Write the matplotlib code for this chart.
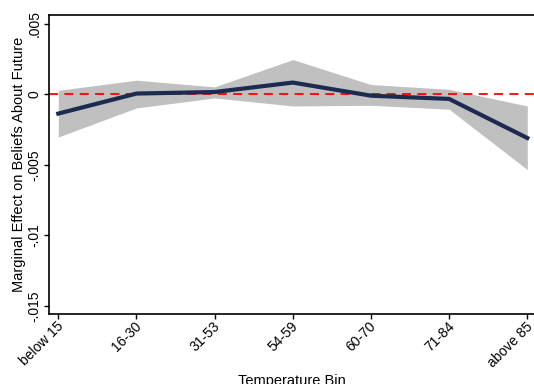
import matplotlib
matplotlib.use("Agg")
import matplotlib.pyplot as plt
import matplotlib.transforms as mtransforms
import numpy as np

categories = ["below 15", "16-30", "31-53", "54-59", "60-70", "71-84", "above 85"]
estimate = [-0.00137, 0.00005, 0.00016, 0.00083, -0.0001, -0.00033, -0.0031]
upper_ci = [0.00028, 0.00100, 0.00052, 0.00246, 0.00069, 0.00035, -0.00083]
lower_ci = [-0.00303, -0.00097, -0.00026, -0.00083, -0.00078, -0.00106, -0.00534]
yticks = [0.005, 0, -0.005, -0.01, -0.015]
yticklabels = [".005", "0", "-.005", "-.01", "-.015"]

plt.rcParams['font.family'] = ['Liberation Sans', 'DejaVu Sans']

fig = plt.figure(figsize=(5.34, 3.84), dpi=100)
ax = fig.add_axes([49.3/534, 1 - 314.3/384, 1 - 49.3/534, (314.3 - 15)/384])

x = np.arange(len(categories))
ax.fill_between(x, lower_ci, upper_ci, color="#c0c0c0", linewidth=0, zorder=1)
ax.axhline(0, color="#ff0000", linestyle=(0, (5, 3.5)), linewidth=1.3, zorder=2)
ax.plot(x, estimate, color="#1c2b50", linewidth=3.0, solid_joinstyle="miter", zorder=3)

ax.set_xlim(-0.115, 6.086)
ax.set_ylim(-0.0156, 0.00562)
ax.set_xticks(x)
ax.set_xticklabels(categories, rotation=45, ha="right", rotation_mode="anchor", fontsize=10)
ax.set_yticks(yticks)
ax.set_yticklabels(yticklabels, rotation=90, va="center", fontsize=10)
ax.tick_params(axis="both", direction="out", length=3.6, width=1, color="black")
ax.tick_params(axis="x", pad=0)
ax.tick_params(axis="y", pad=2)
offset = mtransforms.ScaledTranslation(-2/100, 0, fig.dpi_scale_trans)
for lbl in ax.get_xticklabels():
    lbl.set_transform(lbl.get_transform() + offset)
ax.spines["right"].set_visible(False)
for s in ["left", "bottom", "top"]:
    ax.spines[s].set_linewidth(1.2)

ax.set_ylabel("Marginal Effect on Beliefs About Future", fontsize=10.5, labelpad=1)
ax.set_xlabel("Temperature Bin", fontsize=10.5, labelpad=3)

fig.savefig("out.png", dpi=100)
